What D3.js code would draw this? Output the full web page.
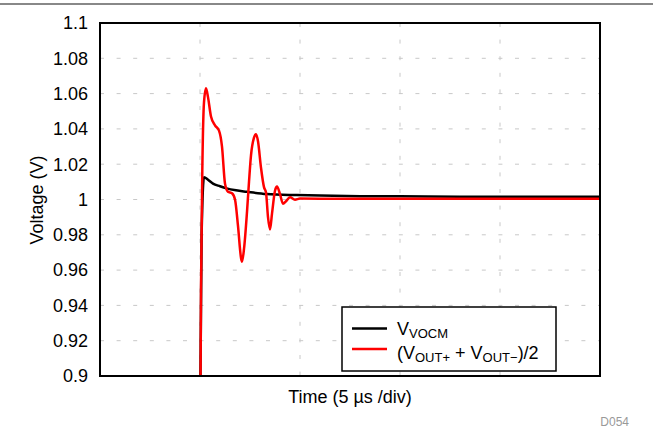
<!DOCTYPE html>
<html><head><meta charset="utf-8">
<script src="https://cdn.jsdelivr.net/npm/d3@7"></script>
<style>
html,body{margin:0;padding:0;background:#fff;}
svg{display:block;font-family:"Liberation Sans",Arial,Helvetica,sans-serif;}
</style></head>
<body>
<svg id="chart" width="653" height="430"></svg>
<script>
// ---- data (time in µs, voltage in V) ----
const yTicks = [0.9,0.92,0.94,0.96,0.98,1,1.02,1.04,1.06,1.08,1.1];
const yTickLabels = ["0.9","0.92","0.94","0.96","0.98","1","1.02","1.04","1.06","1.08","1.1"];
const xGrid = [5,10,15,20];
const vocmTime = [0,4.98,5.08,5.2,5.4,5.65,6.0,6.33,6.8,7.33,8.33,9.83,11,13,15,18,21,25];
const vocmVolt = [0.85,0.85,0.98,1.0126,1.0112,1.009,1.0075,1.0063,1.0052,1.0044,1.0031,1.0025,1.0022,1.0019,1.0018,1.0016,1.0015,1.0015];
const outTime = [0,5.0,5.05,5.12,5.2,5.3,5.4,5.55,5.75,5.95,6.1,6.25,6.4,6.6,6.75,6.9,7.05,7.1,7.2,7.35,7.45,7.55,7.7,7.8,7.9,8.05,8.2,8.3,8.4,8.5,8.6,8.75,8.85,9.0,9.15,9.3,9.5,9.75,10,12,15,18,21,25];
const outVolt = [0.85,0.85,0.95,1.02,1.055,1.063,1.058,1.047,1.042,1.039,1.03,1.009,1.0044,1.0035,1.0,0.985,0.967,0.9648,0.972,0.993,1.01,1.025,1.035,1.037,1.033,1.018,1.007,1.004,0.99,0.983,0.992,1.005,1.0073,1.003,0.9976,0.999,1.0013,0.9999,1.0005,1.0004,1.0004,1.0004,1.0004,1.0004];

const svg = d3.select("#chart");
const L=100, R=600, T=23, B=376;
const x = d3.scaleLinear().domain([0,25]).range([L,R]);
const y = d3.scaleLinear().domain([0.9,1.1]).range([B,T]);

// top rule
svg.append("line").attr("x1",0).attr("x2",653).attr("y1",4).attr("y2",4)
  .attr("stroke","#888").attr("stroke-width",2);

// grid
const g = svg.append("g");
g.selectAll(".hg").data(yTicks.slice(1,-1)).enter().append("line")
  .attr("x1",L).attr("x2",R).attr("y1",d=>y(d)).attr("y2",d=>y(d))
  .attr("stroke","#c8c8c8").attr("stroke-width",1).attr("stroke-dasharray","4,12.6");
g.selectAll(".vg").data(xGrid).enter().append("line")
  .attr("x1",d=>x(d)).attr("x2",d=>x(d)).attr("y1",T).attr("y2",B)
  .attr("stroke","#c8c8c8").attr("stroke-width",1).attr("stroke-dasharray","4,12.6");

// clip
svg.append("clipPath").attr("id","clip").append("rect")
  .attr("x",L).attr("y",T).attr("width",R-L).attr("height",B-T);

const line = d3.line().x(d=>x(d[0])).y(d=>y(d[1])).curve(d3.curveMonotoneX);
const vocm = vocmTime.map((t,i)=>[t,vocmVolt[i]]);
const out = outTime.map((t,i)=>[t,outVolt[i]]);
const pg = svg.append("g").attr("clip-path","url(#clip)");
pg.append("path").datum(vocm).attr("d",line).attr("fill","none")
  .attr("stroke","#000").attr("stroke-width",2.5);
pg.append("path").datum(out).attr("d",line).attr("fill","none")
  .attr("stroke","#ff0000").attr("stroke-width",2.5);

// frame
svg.append("rect").attr("x",L).attr("y",T).attr("width",R-L).attr("height",B-T)
  .attr("fill","none").attr("stroke","#000").attr("stroke-width",2);

// y tick labels
svg.selectAll(".yl").data(yTicks).enter().append("text")
  .attr("x",88).attr("y",d=>y(d)).attr("dy","0.35em").attr("text-anchor","end")
  .attr("font-size",18).attr("fill","#000").text((d,i)=>yTickLabels[i]);

// axis titles
svg.append("text").attr("transform","translate(43,200) rotate(-90)")
  .attr("text-anchor","middle").attr("font-size",18).text("Voltage (V)");
svg.append("text").attr("x",350).attr("y",403).attr("text-anchor","middle")
  .attr("font-size",18).text("Time (5 \u00b5s /div)");
svg.append("text").attr("x",629).attr("y",426).attr("text-anchor","end")
  .attr("font-size",12).attr("fill","#999").text("D054");

// legend
const lg = svg.append("g");
lg.append("rect").attr("x",342).attr("y",307).attr("width",214).attr("height",64)
  .attr("fill","#fff").attr("stroke","#000").attr("stroke-width",1.5);
const rows = [{c:"#000",y:328.5},{c:"#ff0000",y:349}];
rows.forEach(r=>{
  lg.append("line").attr("x1",352).attr("x2",387).attr("y1",r.y).attr("y2",r.y)
    .attr("stroke",r.c).attr("stroke-width",2.5);
});
const t1 = lg.append("text").attr("x",397).attr("y",335).attr("font-size",18);
t1.append("tspan").text("V");
t1.append("tspan").attr("font-size",13).attr("dy",3).text("VOCM");
const t2 = lg.append("text").attr("x",397).attr("y",358.5).attr("font-size",18);
t2.append("tspan").text("(V");
t2.append("tspan").attr("font-size",13).attr("dy",3).text("OUT+");
t2.append("tspan").attr("dy",-3).text(" + V");
t2.append("tspan").attr("font-size",13).attr("dy",3).text("OUT\u2212");
t2.append("tspan").attr("dy",-3).text(")/2");
</script>
</body></html>
